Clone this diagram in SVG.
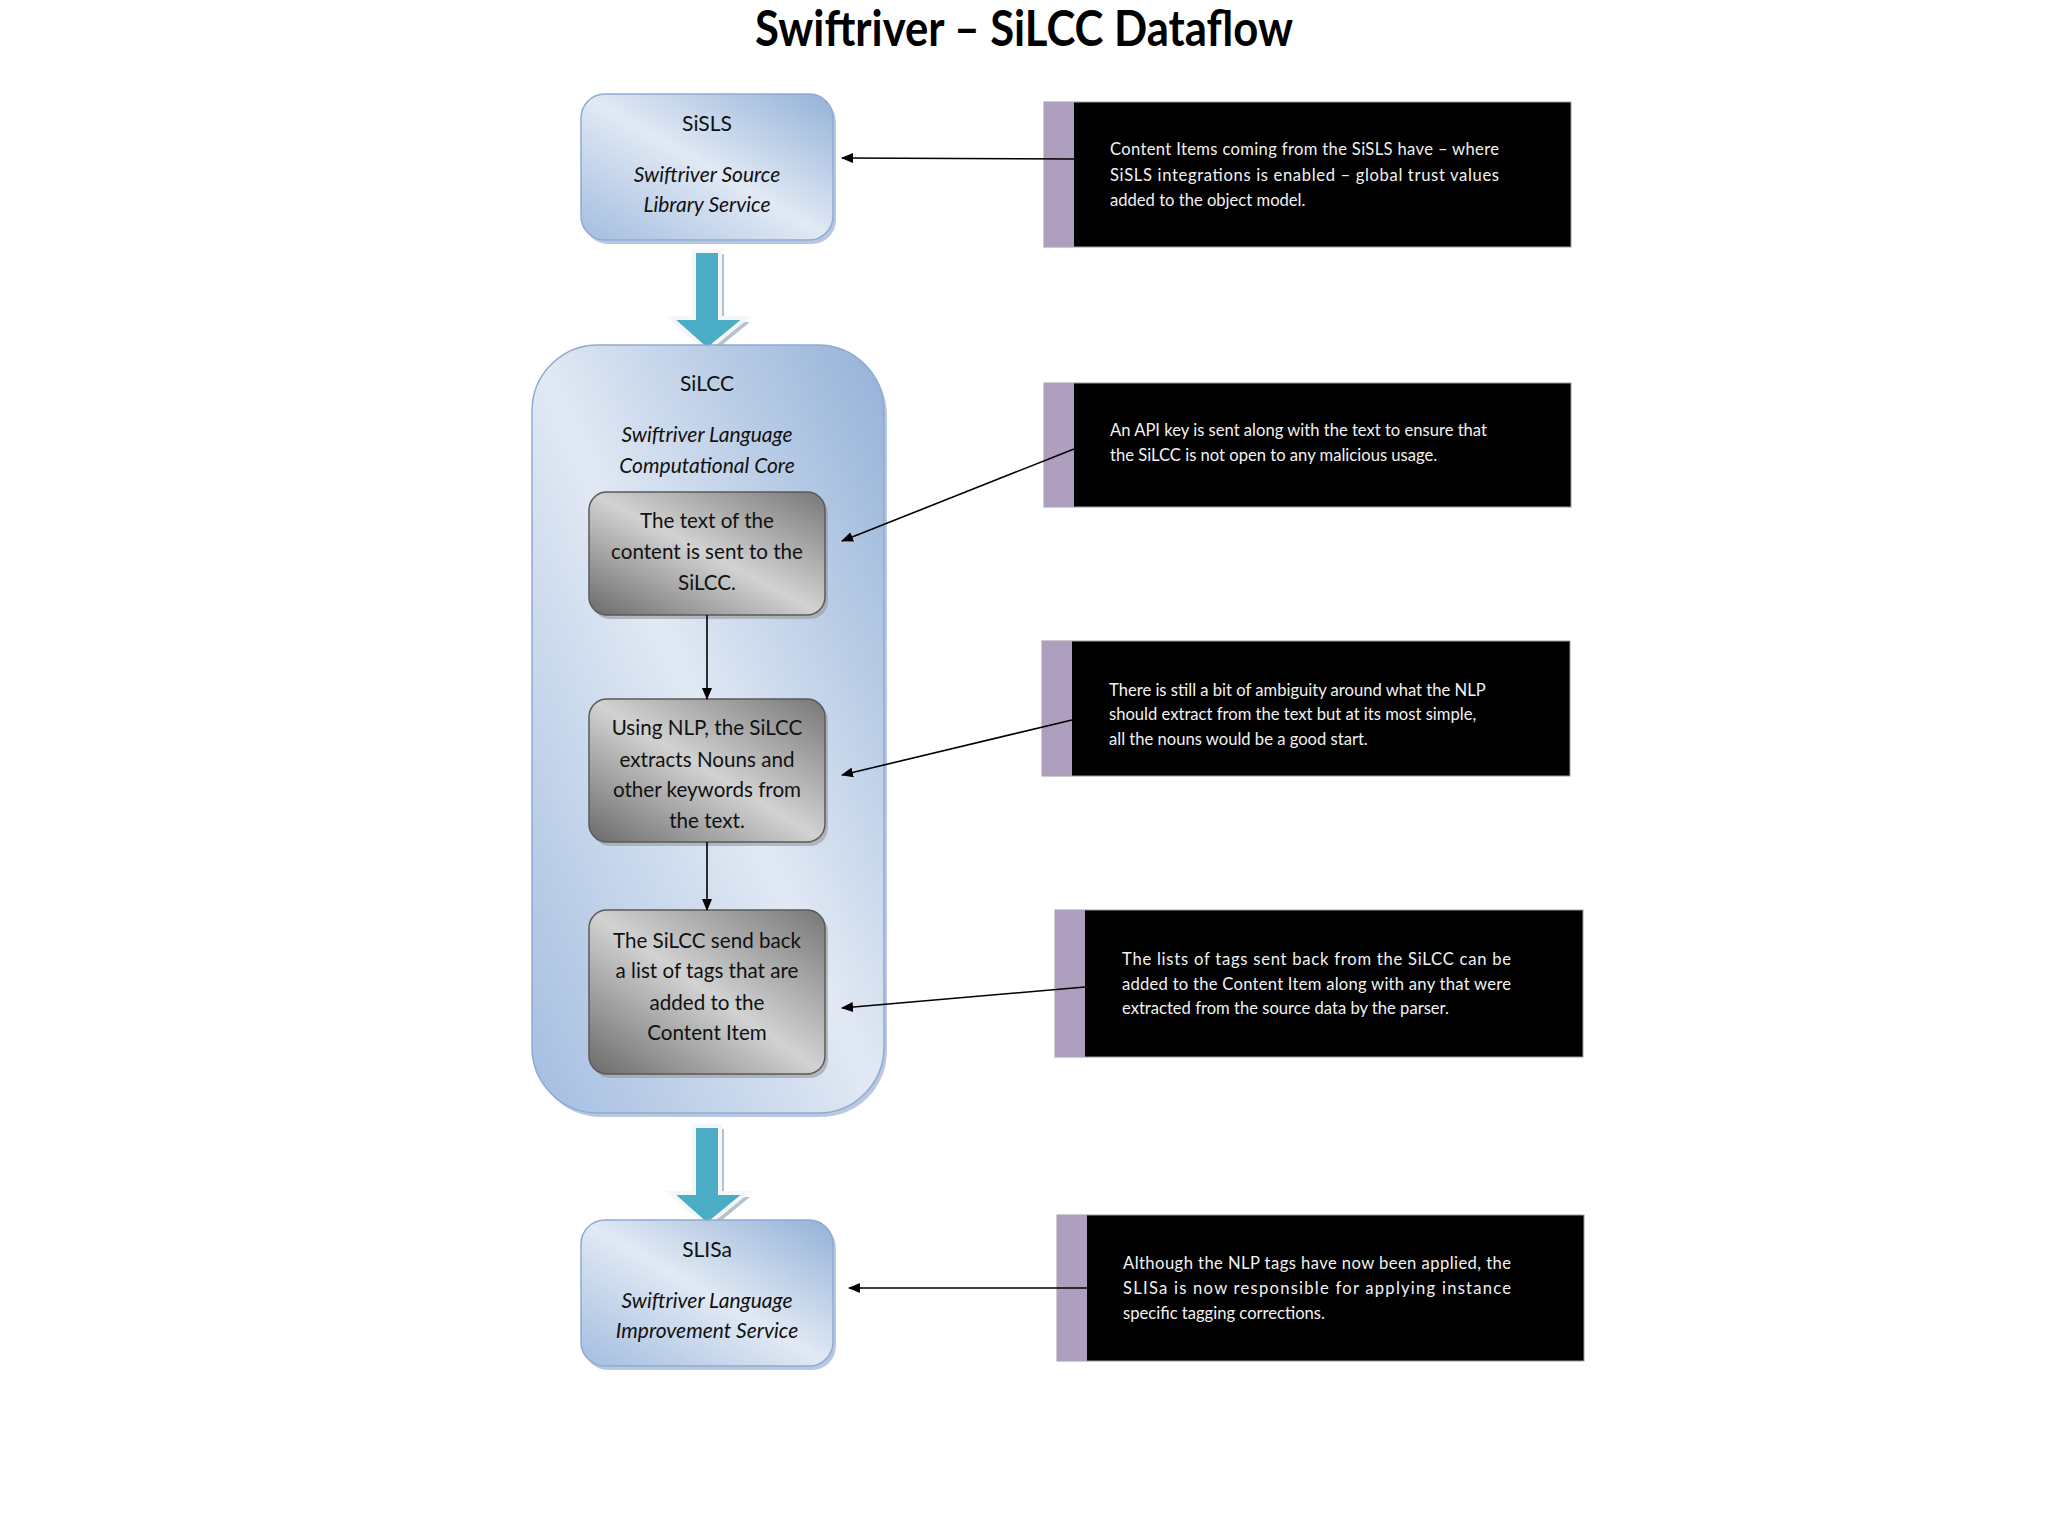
<svg xmlns="http://www.w3.org/2000/svg" width="2048" height="1536" viewBox="0 0 2048 1536">
<style>
.title{font-family:Lato,"Open Sans","DejaVu Sans",sans-serif;font-weight:bold;font-size:50px;fill:#000}
.bt{font-family:Lato,"Open Sans","DejaVu Sans",sans-serif;font-size:21px;fill:#111;text-anchor:middle}
.bi{font-style:italic}
.gt{font-family:Lato,"Open Sans","DejaVu Sans",sans-serif;font-size:20.6px;fill:#111;text-anchor:middle}
.ct{font-family:Lato,"Open Sans","DejaVu Sans",sans-serif;font-size:16.6px;fill:#f2f2f2}
.conn{stroke:#000;stroke-width:1.6;fill:none}
.blue{fill:url(#gBlue);stroke:#8faad2;stroke-width:1.5}
.bshadow{fill:#7f9bc4;opacity:0.55}
.gray{fill:url(#gGray);stroke:#5a5a5a;stroke-width:1.5}
.gshadow{fill:#9a9a9a;opacity:0.6}
.black{fill:#000;stroke:#9a9aa8;stroke-width:1}
.strip{fill:#ae9fbe}
.barrow{fill:#4bacc6;stroke:#f4f6f8;stroke-width:4;stroke-linejoin:miter}
.ashadow{fill:#b5c2cc}
</style>
<defs>
<linearGradient id="gBlue" x1="0" y1="1" x2="1" y2="0">
<stop offset="0" stop-color="#a3bde0"/>
<stop offset="0.5" stop-color="#e1e9f4"/>
<stop offset="1" stop-color="#93b1d8"/>
</linearGradient>
<linearGradient id="gGray" x1="0" y1="1" x2="1" y2="0">
<stop offset="0" stop-color="#6a6a6a"/>
<stop offset="0.5" stop-color="#d2d2d2"/>
<stop offset="1" stop-color="#777777"/>
</linearGradient>
<marker id="ah" markerWidth="12" markerHeight="10" refX="11" refY="5" orient="auto" markerUnits="userSpaceOnUse">
<path d="M0,0 L12,5 L0,10 z" fill="#000"/>
</marker>
</defs>
<rect width="2048" height="1536" fill="#fff"/>
<text class="title" x="755" y="46" textLength="538" lengthAdjust="spacingAndGlyphs">Swiftriver – SiLCC Dataflow</text>

<g id="arrow-sisls-silcc">
<polygon class="ashadow" points="698,254 724,254 724,322 750,322 711,354 675,322 698,322"/>
<polygon class="barrow" points="694,251 720,251 720,318 746,318 707,350 671,318 694,318"/>
</g>
<g id="arrow-silcc-slisa">
<polygon class="ashadow" points="698,1129 724,1129 724,1197 750,1197 711,1229 675,1197 698,1197"/>
<polygon class="barrow" points="694,1126 720,1126 720,1193 746,1193 707,1225 671,1193 694,1193"/>
</g>

<g id="sisls">
<rect class="bshadow" x="584" y="98" width="252" height="146" rx="24"/>
<rect class="blue" x="581" y="94" width="252" height="146" rx="24"/>
<text class="bt" x="707" y="131">SiSLS</text>
<text class="bt bi" x="707" y="182">Swiftriver Source</text>
<text class="bt bi" x="707" y="212">Library Service</text>
</g>

<g id="silcc">
<rect class="bshadow" x="535" y="349" width="352" height="768" rx="66"/>
<rect class="blue" x="532" y="345" width="352" height="768" rx="66"/>
<text class="bt" x="707" y="391">SiLCC</text>
<text class="bt bi" x="707" y="442">Swiftriver Language</text>
<text class="bt bi" x="707" y="473">Computational Core</text>
</g>

<g id="step1">
<rect class="gshadow" x="592" y="496" width="236" height="123" rx="18"/>
<rect class="gray" x="589" y="492" width="236" height="123" rx="18"/>
<text class="gt" x="707" y="528">The text of the</text>
<text class="gt" x="707" y="559">content is sent to the</text>
<text class="gt" x="707" y="590">SiLCC.</text>
</g>

<g id="step2">
<rect class="gshadow" x="592" y="703" width="236" height="143" rx="18"/>
<rect class="gray" x="589" y="699" width="236" height="143" rx="18"/>
<text class="gt" x="707" y="735">Using NLP, the SiLCC</text>
<text class="gt" x="707" y="767">extracts Nouns and</text>
<text class="gt" x="707" y="797">other keywords from</text>
<text class="gt" x="707" y="828">the text.</text>
</g>

<g id="step3">
<rect class="gshadow" x="592" y="914" width="236" height="164" rx="18"/>
<rect class="gray" x="589" y="910" width="236" height="164" rx="18"/>
<text class="gt" x="707" y="948">The SiLCC send back</text>
<text class="gt" x="707" y="978">a list of tags that are</text>
<text class="gt" x="707" y="1010">added to the</text>
<text class="gt" x="707" y="1040">Content Item</text>
</g>

<g id="slisa">
<rect class="bshadow" x="584" y="1224" width="252" height="146" rx="24"/>
<rect class="blue" x="581" y="1220" width="252" height="146" rx="24"/>
<text class="bt" x="707" y="1257">SLISa</text>
<text class="bt bi" x="707" y="1308">Swiftriver Language</text>
<text class="bt bi" x="707" y="1338">Improvement Service</text>
</g>

<g id="note1">
<rect class="black" x="1044" y="102" width="527" height="145"/>
<rect class="strip" x="1044" y="102" width="30" height="145"/>
<text class="ct" x="1110" y="155" textLength="389" lengthAdjust="spacing">Content Items coming from the SiSLS have – where</text>
<text class="ct" x="1110" y="181" textLength="389" lengthAdjust="spacing">SiSLS integrations is enabled – global trust values</text>
<text class="ct" x="1110" y="206">added to the object model.</text>
</g>

<g id="note2">
<rect class="black" x="1044" y="383" width="527" height="124"/>
<rect class="strip" x="1044" y="383" width="30" height="124"/>
<text class="ct" x="1110" y="436">An API key is sent along with the text to ensure that</text>
<text class="ct" x="1110" y="461">the SiLCC is not open to any malicious usage.</text>
</g>

<g id="note3">
<rect class="black" x="1042" y="641" width="528" height="135"/>
<rect class="strip" x="1042" y="641" width="30" height="135"/>
<text class="ct" x="1109" y="696">There is still a bit of ambiguity around what the NLP</text>
<text class="ct" x="1109" y="720">should extract from the text but at its most simple,</text>
<text class="ct" x="1109" y="745">all the nouns would be a good start.</text>
</g>

<g id="note4">
<rect class="black" x="1055" y="910" width="528" height="147"/>
<rect class="strip" x="1055" y="910" width="30" height="147"/>
<text class="ct" x="1122" y="965" textLength="389" lengthAdjust="spacing">The lists of tags sent back from the SiLCC can be</text>
<text class="ct" x="1122" y="990" textLength="389" lengthAdjust="spacing">added to the Content Item along with any that were</text>
<text class="ct" x="1122" y="1014">extracted from the source data by the parser.</text>
</g>

<g id="note5">
<rect class="black" x="1057" y="1215" width="527" height="146"/>
<rect class="strip" x="1057" y="1215" width="30" height="146"/>
<text class="ct" x="1123" y="1269" textLength="388" lengthAdjust="spacing">Although the NLP tags have now been applied, the</text>
<text class="ct" x="1123" y="1294" textLength="388" lengthAdjust="spacing">SLISa is now responsible for applying instance</text>
<text class="ct" x="1123" y="1319">specific tagging corrections.</text>
</g>

<g id="connectors">
<line class="conn" x1="1074" y1="159" x2="842" y2="158" marker-end="url(#ah)"/>
<line class="conn" x1="1074" y1="449" x2="842" y2="541" marker-end="url(#ah)"/>
<line class="conn" x1="1072" y1="720" x2="842" y2="775" marker-end="url(#ah)"/>
<line class="conn" x1="1085" y1="987" x2="842" y2="1008" marker-end="url(#ah)"/>
<line class="conn" x1="1087" y1="1288" x2="849" y2="1288" marker-end="url(#ah)"/>
<line class="conn" x1="707" y1="615" x2="707" y2="699" marker-end="url(#ah)"/>
<line class="conn" x1="707" y1="842" x2="707" y2="910" marker-end="url(#ah)"/>
</g>
</svg>
